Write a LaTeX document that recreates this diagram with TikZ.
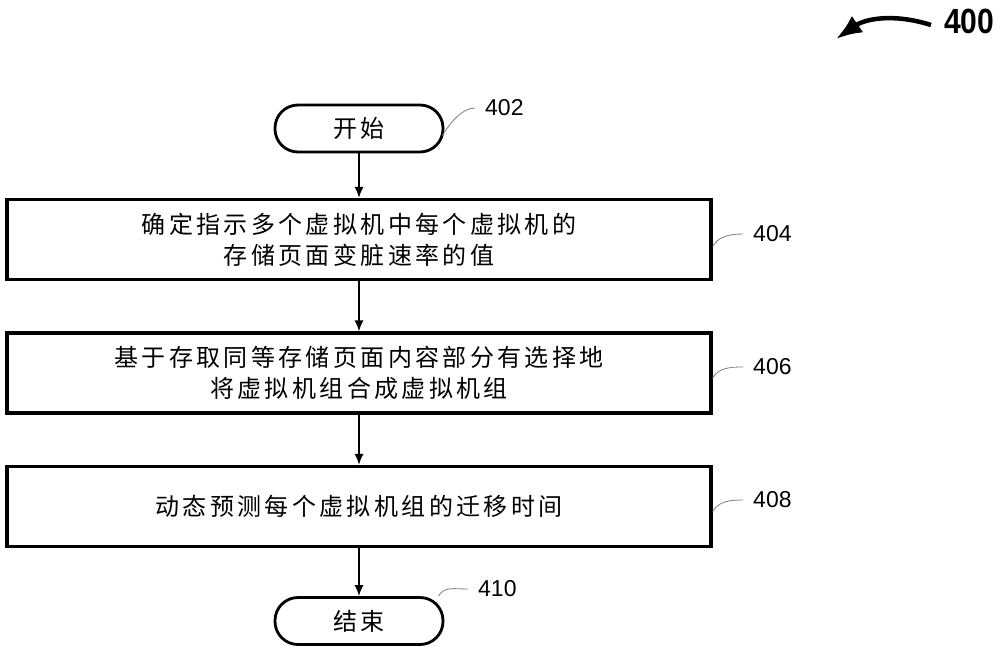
\documentclass[tikz,border=0pt]{standalone}
\usepackage{fontspec}
\usepackage{graphicx}
\usetikzlibrary{arrows.meta}
\newfontfamily\cjk[LetterSpace=14]{Noto Sans CJK SC}
\newfontfamily\numfont{Liberation Sans}
\begin{document}
\begin{tikzpicture}[x=1pt,y=-1pt,
  stepbox/.style={draw, line width=3.2pt, minimum width=704pt, minimum height=80pt, inner sep=0pt, align=center, font=\cjk\fontsize{24}{31}\selectfont},
  term/.style={draw, line width=2.8pt, rounded corners=23pt, minimum width=168pt, minimum height=47pt, inner sep=0pt, font=\cjk\fontsize{24}{31}\selectfont},
  flow/.style={draw, line width=1.6pt, -{Latex[length=11pt,width=9pt]}},
  leader/.style={draw, gray, line width=0.8pt},
  ref/.style={anchor=west, inner sep=0pt, font=\numfont\fontsize{23}{23}\selectfont}
]
\useasboundingbox (0,0) rectangle (1000,651);
\fill[white] (0,0) rectangle (1000,651);

\node[term] (start) at (359,128.5) {开始};
\node[stepbox] (b404) at (359,239.5) {确定指示多个虚拟机中每个虚拟机的\\存储页面变脏速率的值};
\node[stepbox] (b406) at (359,373) {基于存取同等存储页面内容部分有选择地\\将虚拟机组合成虚拟机组};
\node[stepbox] (b408) at (359,506.5) {动态预测每个虚拟机组的迁移时间};
\node[term] (stop) at (359,621) {结束};

\draw[flow] (start) -- (b404);
\draw[flow] (b404) -- (b406);
\draw[flow] (b406) -- (b408);
\draw[flow] (b408) -- (stop);

\node[ref] (l402) at (485,108) {402};
\node[ref] (l404) at (753,234) {404};
\node[ref] (l406) at (753,367) {406};
\node[ref] (l408) at (753,500) {408};
\node[ref] (l410) at (478,589) {410};

\draw[leader] ([xshift=-2pt,yshift=-7pt]start.east) .. controls +(6,-10) and +(-14,0) .. ([xshift=-10pt]l402.west);
\draw[leader] ([yshift=-7pt]b404.east) .. controls +(6,-10) and +(-14,0) .. ([xshift=-10pt]l404.west);
\draw[leader] ([yshift=-5pt]b406.east) .. controls +(6,-10) and +(-14,0) .. ([xshift=-10pt]l406.west);
\draw[leader] ([yshift=-5pt]b408.east) .. controls +(6,-10) and +(-14,0) .. ([xshift=-10pt]l408.west);
\draw[leader] ([xshift=-6pt]stop.north east) .. controls +(6,-10) and +(-14,0) .. ([xshift=-10pt]l410.west);

\node[anchor=west, inner sep=0pt, font=\numfont\bfseries\fontsize{35}{35}\selectfont] (fig) at (944,21) {\scalebox{0.86}[1]{400}};
\coordinate (tip) at (836,39);
\draw[line width=4.5pt, -{Latex[length=26pt,width=20pt]}] ([xshift=-13pt,yshift=-4pt]fig.west) .. controls (893,13) and (865,19) .. (tip);
\end{tikzpicture}
\end{document}
